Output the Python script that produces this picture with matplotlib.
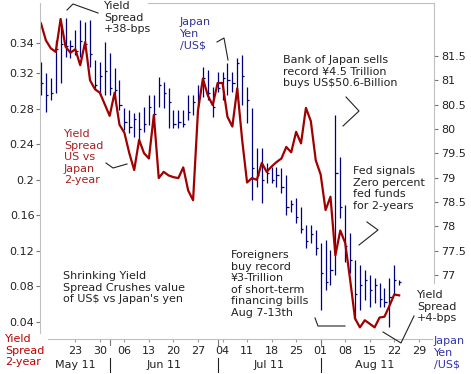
import numpy as np
import pandas as pd
import matplotlib
matplotlib.use('Agg')
import matplotlib.pyplot as plt
import matplotlib.transforms as mtransforms

# ---------------------------- data ---------------------------- #

dates = pd.bdate_range('2011-05-12', '2011-08-23')      # trading days shown
axis_end = pd.Timestamp('2011-08-31')

spread = [0.376, 0.357, 0.348, 0.344, 0.381, 0.350, 0.343, 0.347, 0.329, 0.355,
          0.312, 0.302, 0.298, 0.285, 0.272, 0.298, 0.262, 0.253, 0.230, 0.211,
          0.245, 0.230, 0.224, 0.273, 0.202, 0.209, 0.205, 0.203, 0.202, 0.214,
          0.188, 0.177, 0.278, 0.314, 0.295, 0.284, 0.309, 0.309, 0.271, 0.260,
          0.303, 0.245, 0.197, 0.202, 0.200, 0.219, 0.209, 0.215, 0.220, 0.224,
          0.237, 0.231, 0.254, 0.241, 0.281, 0.266, 0.222, 0.206, 0.166, 0.181,
          0.115, 0.143, 0.129, 0.088, 0.044, 0.034, 0.042, 0.038, 0.034, 0.045,
          0.046, 0.058, 0.071, 0.070]

yen_high = [81.38, 81.15, 81.05, 81.83, 82.10, 82.28, 81.83, 82.03, 82.24, 82.20,
            82.24, 81.42, 81.38, 81.79, 81.56, 81.25, 81.01, 80.43, 80.39, 80.33,
            80.35, 80.45, 80.70, 80.70, 81.07, 80.97, 80.84, 80.39, 80.39, 80.39,
            80.70, 80.70, 80.90, 81.27, 81.21, 80.86, 81.17, 81.17, 81.36, 81.17,
            81.46, 81.52, 80.86, 80.43, 79.61, 79.61, 79.30, 79.22, 79.22, 79.20,
            79.05, 78.54, 78.58, 78.40, 78.03, 78.03, 77.92, 77.66, 77.72, 77.51,
            80.29, 79.42, 78.44, 77.86, 77.31, 77.21, 77.10, 77.00, 76.94, 76.84,
            76.73, 76.94, 77.21, 76.90]

yen_low = [80.70, 80.35, 80.60, 80.74, 80.95, 81.48, 81.46, 81.52, 81.48, 81.66,
           81.27, 80.80, 80.70, 80.70, 80.70, 80.64, 80.39, 79.98, 79.92, 79.84,
           79.77, 79.94, 80.08, 80.18, 80.45, 80.43, 80.02, 80.02, 80.02, 80.04,
           80.18, 80.29, 80.45, 80.66, 80.60, 80.25, 80.76, 80.60, 80.70, 80.76,
           80.66, 80.49, 80.12, 78.54, 78.81, 78.48, 78.89, 78.89, 78.81, 78.68,
           78.23, 78.29, 78.07, 77.86, 77.55, 77.66, 77.41, 76.28, 76.69, 76.79,
           77.00, 78.17, 77.27, 77.04, 76.08, 76.28, 76.49, 76.34, 76.42, 76.34,
           76.34, 75.93, 76.59, 76.79]

yen_close = [80.95, 80.70, 80.75, 81.65, 81.75, 81.70, 81.70, 81.60, 81.80, 81.75,
             81.55, 80.90, 81.10, 81.20, 80.85, 80.80, 80.50, 80.15, 80.05, 80.20,
             80.00, 80.10, 80.45, 80.30, 80.90, 80.75, 80.55, 80.10, 80.15, 80.10,
             80.35, 80.55, 80.65, 81.05, 80.75, 80.45, 80.85, 81.05, 81.00, 80.95,
             81.35, 81.10, 80.60, 79.20, 79.05, 78.95, 79.10, 78.95, 79.05, 78.80,
             78.40, 78.45, 78.20, 77.95, 77.70, 77.85, 77.55, 77.05, 76.85, 77.10,
             79.10, 78.40, 77.60, 77.30, 76.60, 76.80, 76.90, 76.70, 76.80, 76.50,
             76.45, 76.55, 76.90, 76.85]

left_ticks = [0.04, 0.08, 0.12, 0.16, 0.2, 0.24, 0.28, 0.32, 0.354]
left_labels = ['0.04', '0.08', '0.12', '0.16', '0.2', '0.24', '0.28', '0.32', '0.34']
right_ticks = [77, 77.5, 78, 78.5, 79, 79.5, 80, 80.5, 81, 81.5]
months = ['May 11', 'Jun 11', 'Jul 11', 'Aug 11']

RED = '#a00000'
BLUE = '#000080'
TXT = '#222222'
GRID = '#c0c0c0'

# ---------------------------- layout ---------------------------- #

W, H = 471, 374
fig = plt.figure(figsize=(W / 100, H / 100), dpi=100)
ax = fig.add_axes([40 / W, 35 / H, 394 / W, 336 / H])
ax2 = ax.twinx()
ax.set_zorder(ax2.get_zorder() + 1)
ax.patch.set_visible(False)

x = np.arange(len(dates))
all_days = pd.bdate_range(dates[0], axis_end)

# yen HLC bars on the right axis
ax2.vlines(x, yen_low, yen_high, color=BLUE, lw=0.9)
ax2.hlines(yen_close, x, x + 0.45, color=BLUE, lw=0.9)
ax2.set_ylim(75.685, 82.59)
ax2.set_yticks(right_ticks)
ax2.set_yticklabels(['%g' % t for t in right_ticks])

# yield spread line on the left axis
ax.plot(x, spread, color=RED, lw=1.6, solid_joinstyle='round')
ax.set_ylim(0.0209, 0.399)
ax.set_xlim(-0.2, 80.1)
ax.set_yticks(left_ticks)
ax.set_yticklabels(left_labels)

# week ticks (mondays from May 23)
mondays = [i for i, d in enumerate(all_days)
           if d.weekday() == 0 and d >= pd.Timestamp('2011-05-23')]
ax.set_xticks(mondays)
ax.set_xticklabels(['%02d' % all_days[i].day for i in mondays])

for a in (ax, ax2):
    a.tick_params(axis='y', direction='out', length=3, width=0.8, pad=1,
                  labelsize=8, color='#777777', labelcolor=TXT)
ax.tick_params(axis='x', direction='out', length=2, width=0.8, pad=3,
               labelsize=8, color='#999999', labelcolor=TXT)
ax2.tick_params(axis='y', pad=2)

for s in ax.spines.values():
    s.set_color(GRID)
    s.set_linewidth(0.8)
ax.spines['left'].set_bounds(0.0276, 0.399)
ax.spines['right'].set_bounds(0.0839, 0.399)
ax.spines['bottom'].set_bounds(1.43, 79.7)
ax.spines['top'].set_bounds(21.8, 80.1)
for s in ax2.spines.values():
    s.set_visible(False)

# month labels and separators
trans = mtransforms.blended_transform_factory(ax.transData, ax.transAxes)
month_start = [i for i in range(1, len(all_days))
               if all_days[i].month != all_days[i - 1].month]
edges = [0] + month_start + [len(all_days) - 1]
for k, m in enumerate(months):
    ax.text((edges[k] + edges[k + 1]) / 2.0, -0.078, m, transform=trans,
            ha='center', va='center', fontsize=8, color=TXT)
for i in month_start:
    ax.plot([i, i], [-0.057, -0.099], transform=trans, color=TXT, lw=0.8, clip_on=False)
    ax.plot([i, i], [-0.004, -0.018], transform=trans, color='#777777', lw=0.8, clip_on=False)

# ---------------------------- annotations ---------------------------- #

def px(xp, yp):
    return xp / W, 1 - yp / H

def note(xp, yp, s, color=TXT):
    fx, fy = px(xp, yp)
    fig.text(fx, fy, s, ha='left', va='top', fontsize=8, color=color, linespacing=1.2)

def pointer(pts):
    xs = [p[0] / W for p in pts]
    ys = [1 - p[1] / H for p in pts]
    fig.add_artist(plt.Line2D(xs, ys, color=TXT, lw=0.8, transform=fig.transFigure))

note(104, 1, 'Yield\nSpread\n+38-bps')
pointer([(67, 10), (73, 4), (98, 13)])

note(180, 17, 'Japan\nYen\n/US$', color='#333399')
pointer([(217, 42), (224, 38), (228, 60)])

note(283, 55, 'Bank of Japan sells\nrecord \u00a54.5 Trillion\nbuys US$50.6-Billion')
pointer([(346, 97), (359, 111), (343, 126)])

note(353, 166, 'Fed signals\nZero percent\nfed funds\nfor 2-years')
pointer([(367, 222), (378, 230), (359, 245)])

note(231, 250, 'Foreigners\nbuy record\n\u00a53-Trillion\nof short-term\nfinancing bills\nAug 7-13th')
pointer([(315, 318), (318, 326), (345, 326)])

note(417, 290, 'Yield\nSpread\n+4-bps')
pointer([(383, 332), (401, 343), (414, 316)])

note(64, 129, 'Yield\nSpread\nUS vs\nJapan\n2-year', color='#a52020')
pointer([(106, 163), (113, 168), (127, 164)])

note(63, 271, 'Shrinking Yield\nSpread Crushes value\nof US$ vs Japan\'s yen')

note(5, 334, 'Yield\nSpread\n2-year', color='#c00000')
note(434, 336, 'Japan\nYen\n/US$', color='#3333aa')

fig.savefig('out.png', dpi=100)
